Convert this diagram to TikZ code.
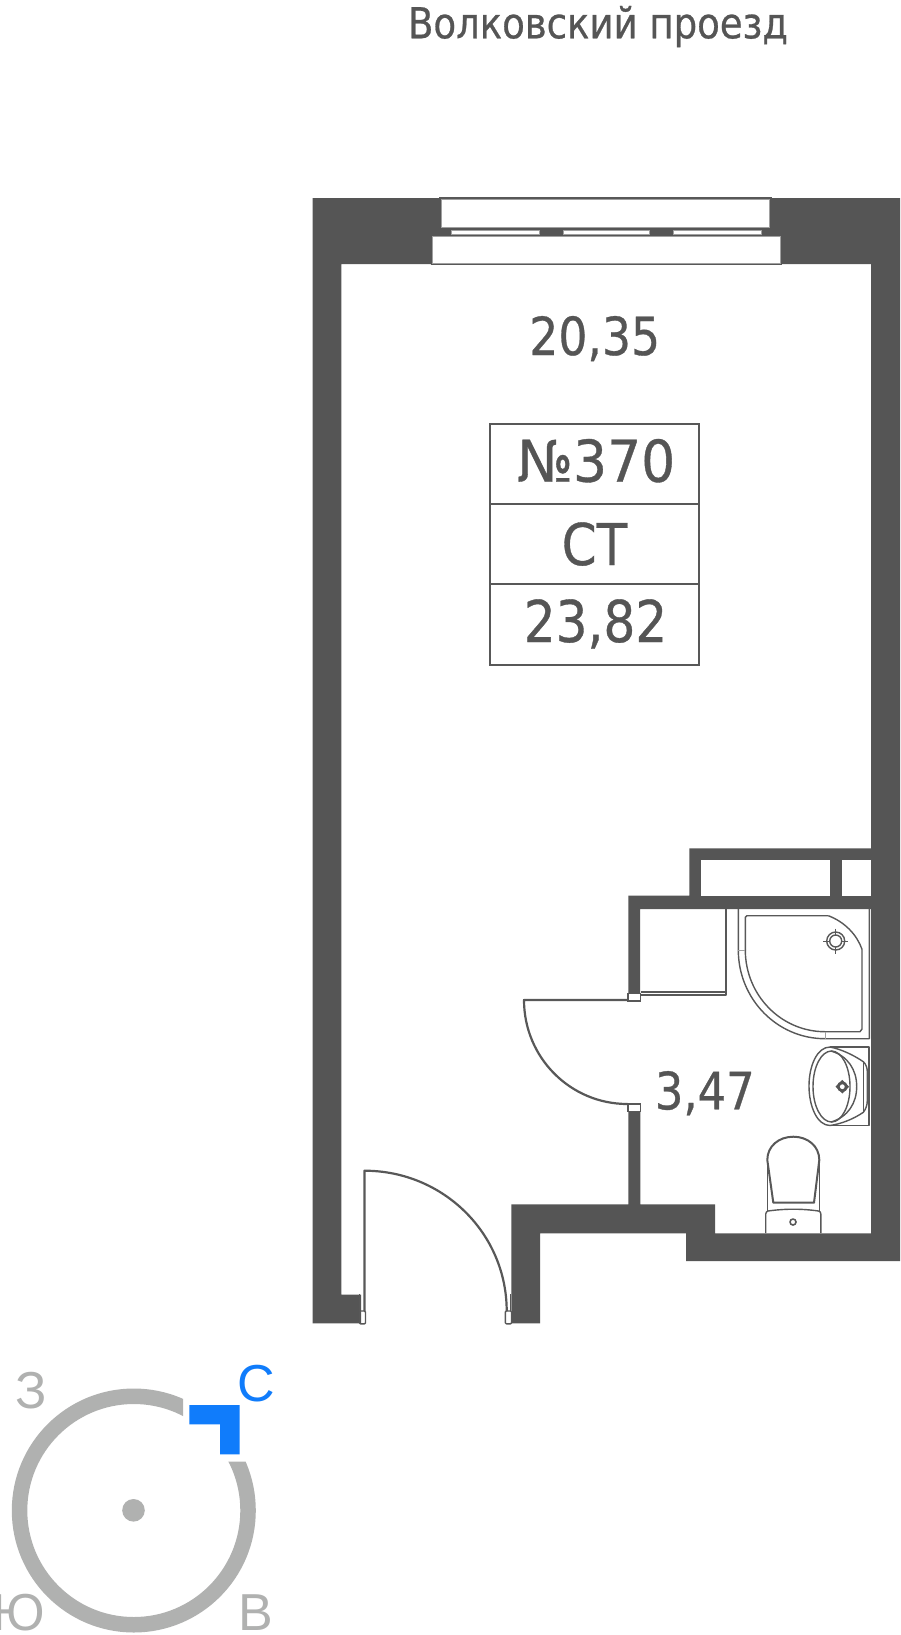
\documentclass[tikz,border=0pt]{standalone}
\usepackage{fontspec}
\setmainfont{DejaVu Sans}[FakeStretch=0.87,FakeBold=0.6]
\newfontfamily\numfont{DejaVu Sans}[FakeStretch=0.93,FakeBold=0.6]
\newfontfamily\compassfont{Liberation Sans}
\definecolor{wall}{HTML}{555555}
\definecolor{fine}{HTML}{585858}
\definecolor{edge}{HTML}{A0A0A0}
\definecolor{ring}{HTML}{B0B1B0}
\definecolor{north}{HTML}{107CFB}
\tikzset{
  x=1pt,y=-1pt,
  plantext/.style={inner sep=0pt,outer sep=0pt,anchor=base,text=wall},
  compasstext/.style={inner sep=0pt,outer sep=0pt,anchor=base,text=ring,font=\compassfont\fontsize{52}{54}\selectfont},
  thinline/.style={draw=fine,line width=1.4pt,line join=round},
  leaf/.style={draw=fine,line width=2.2pt,line join=round},
  jamb/.style={draw=fine,fill=white,line width=1.8pt},
  wingap/.style={fill=white,draw=edge,line width=0.8pt},
  tabletext/.style={plantext,font=\fontsize{57.6}{60}\selectfont},
}
\begin{document}
\begin{tikzpicture}
\useasboundingbox (0,0) rectangle (900,1635);
\fill[white] (0,0) rectangle (900,1635);
% walls
\fill[wall] (312.5,198) -- (900,198) -- (900,1261) -- (686,1261) -- (686,1233.3) -- (540,1233.3) -- (540,1323.3) -- (511.3,1323.3) -- (511.3,1204.3) -- (628.3,1204.3) -- (628.3,1112) -- (640.3,1112) -- (640.3,1204.3) -- (715,1204.3) -- (715,1233.3) -- (871,1233.3) -- (871,909) -- (640,909) -- (640,993) -- (628.3,993) -- (628.3,895.7) -- (689.3,895.7) -- (689.3,848.3) -- (871,848.3) -- (871,264) -- (341.3,264) -- (341.3,1294.7) -- (361,1294.7) -- (361,1323.3) -- (312.5,1323.3) -- cycle;
\fill[white] (701.3,860) rectangle (830.3,895.7);
\fill[white] (842,860) rectangle (871,895.7);
% window
\draw[draw=fine,line width=1.6pt] (439,198) -- (772,198);
\draw[wingap] (441,199) rectangle (769.6,227.3);
\draw[wingap] (451,230) rectangle (539,234.3);
\draw[wingap] (563,230) rectangle (649,234.3);
\draw[wingap] (673.5,230) rectangle (761,234.3);
\draw[wingap] (432,236.7) rectangle (780,263);
\draw[draw=fine,line width=1.6pt] (430.5,264.5) -- (782,264.5);
% table
\draw[draw=fine,line width=2.1pt] (490,423.7) rectangle (699,664.7);
\draw[draw=fine,line width=2.1pt] (490,504.3) -- (699,504.3);
\draw[draw=fine,line width=2.1pt] (490,584.3) -- (699,584.3);
% entrance door
\draw[leaf] (364.5,1311) -- (364.5,1170.7) .. controls (443.3,1170.7) and (506.7,1233.5) .. (506.7,1311);
\draw[thinline] (359.5,1294) -- (359.5,1311);
\draw[thinline] (510.5,1294) -- (510.5,1311);
\draw[thinline,rounded corners=1pt] (359.5,1311) -- (359.5,1323.8) -- (365.5,1323.8) -- (365.5,1311) -- cycle;
\draw[thinline,rounded corners=1pt] (505.3,1311) -- (505.3,1323.8) -- (511.5,1323.8) -- (511.5,1311) -- cycle;
% inner door
\draw[leaf] (627.5,1000) -- (524,1000) .. controls (524,1057.4) and (570.1,1104) .. (627.5,1104);
\draw[jamb] (628,993.5) rectangle (640.5,1001);
\draw[jamb] (628,1104) rectangle (640.5,1111.5);
% closet
\draw[thinline,line width=1.6pt] (725.7,909) -- (725.7,995) -- (641,995);
\draw[thinline,line width=1.6pt] (641,991.7) -- (725.7,991.7);
% shower
\draw[thinline] (738.3,909) -- (738.3,950) .. controls (738.3,999) and (777.1,1038.7) .. (825,1038.7) -- (869.3,1038.7) -- (869.3,908);
\draw[thinline,rounded corners=1.5pt] (745.3,950) -- (745.3,915.7) -- (828.3,915.7);
\draw[thinline] (828.3,915.7) .. controls (845,922) and (857,935) .. (862,949.3) -- (862,1029) -- (860,1031.7) -- (825,1031.7) .. controls (781,1031.7) and (745.3,995.1) .. (745.3,950);
\draw[draw=edge,line width=0.7pt] (738.3,950) -- (745.3,950) (825,1031.7) -- (825,1038.7);
\draw[thinline] (835.7,941) circle[radius=9];
\draw[thinline] (835.7,941) circle[radius=6];
\draw[thinline,line width=1pt] (823.2,941) -- (829.7,941) (841.7,941) -- (848.2,941) (835.7,928.5) -- (835.7,935) (835.7,947) -- (835.7,953.5);
% sink
\draw[thinline] (830,1047) -- (869,1047) -- (869,1125.5) -- (830,1125.5);
\draw[thinline] (830,1047) .. controls (817,1047) and (809,1066) .. (809,1086) .. controls (809,1106) and (817,1125.5) .. (830,1125.5) .. controls (840,1124) and (852,1120) .. (863.3,1112.3) .. controls (866,1109) and (867.3,1105) .. (867.3,1100) -- (867.3,1072) .. controls (867.3,1068) and (866,1064) .. (863.3,1061.7) .. controls (852,1054) and (840,1049) .. (830,1047) -- cycle;
\draw[thinline] (831.5,1086.5) ellipse[x radius=18.5,y radius=35.5];
\draw[thinline] (831,1051) .. controls (848,1056) and (856.7,1070) .. (856.7,1086.5) .. controls (856.7,1103) and (848,1117) .. (831,1122);
\draw[thinline] (863.3,1061.7) -- (863.3,1112.3);
\fill[wall] (842.3,1079.9) -- (849.1,1086.7) -- (842.3,1093.5) -- (835.5,1086.7) -- cycle;
\fill[wall] (842.3,1086.7) circle[radius=5.4];
\fill[white] (842.3,1086.7) circle[radius=2.4];
% toilet
\draw[thinline,line width=2pt] (767.3,1160) .. controls (767.3,1146) and (779,1136.7) .. (793.3,1136.7) .. controls (807.6,1136.7) and (819.3,1146) .. (819.3,1160) -- (814,1202.7) -- (773.3,1202.7) -- cycle;
\draw[thinline] (767.3,1160) -- (767.3,1211) (819.3,1160) -- (819.3,1211);
\draw[thinline] (765.7,1233) -- (765.7,1214) .. controls (765.7,1212) and (767,1211.5) .. (768,1211) .. controls (785,1208.6) and (802,1208.6) .. (818.5,1211) .. controls (820,1211.5) and (820.8,1212) .. (820.8,1214) -- (820.8,1233);
\draw[thinline,line width=1.6pt] (793,1222) circle[radius=3];
% labels
\node[plantext,font=\fontsize{42.6}{45}\selectfont] (street) at (598,38.3) {Волковский проезд};
\node[plantext,font=\fontsize{52.5}{55}\selectfont] (livingarea) at (594.7,355) {20,35};
\node[tabletext,font=\numfont\fontsize{57.6}{60}\selectfont] (number) at (596.3,481.7) {№370};
\node[tabletext] (kind) at (594.5,565) {СТ};
\node[tabletext] (total) at (595.5,642) {23,82};
\node[plantext,font=\fontsize{51.5}{54}\selectfont] (batharea) at (704.8,1109.3) {3,47};
% compass
\begin{scope}
\clip (0,1350) -- (183,1350) -- (183,1461.7) -- (300,1461.7) -- (300,1635) -- (0,1635) -- cycle;
\draw[ring,line width=15.5pt] (133.8,1510.5) circle[radius=114.25];
\end{scope}
\fill[ring] (133.5,1510.3) circle[radius=11.3];
\fill[north] (189.3,1405) -- (239.7,1405) -- (239.7,1454.3) -- (220,1454.3) -- (220,1424.3) -- (189.3,1424.3) -- cycle;
\node[compasstext] (west) at (31.5,1408) {З};
\node[compasstext,text=north] (northlabel) at (256.7,1401) {С};
\node[compasstext] (east) at (255.5,1630) {В};
\node[compasstext] (south) at (19,1630) {Ю};
\end{tikzpicture}
\end{document}
